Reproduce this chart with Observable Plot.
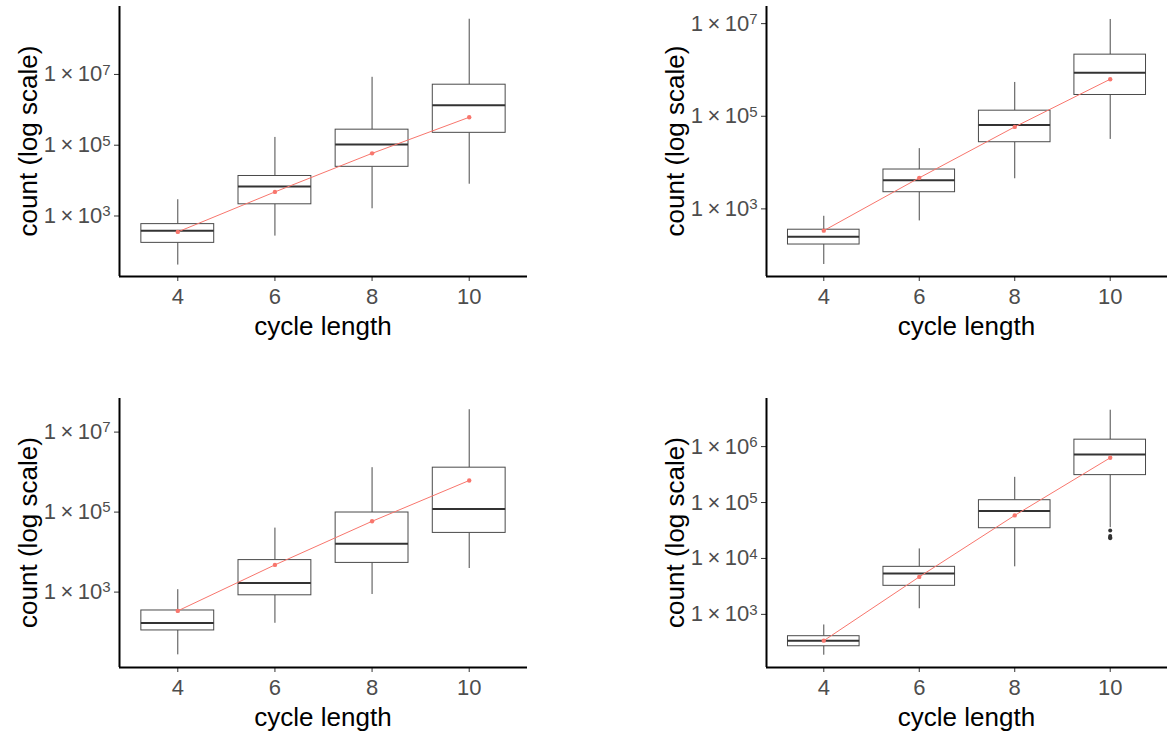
<!DOCTYPE html>
<html>
<head>
<meta charset="utf-8">
<script src="https://cdn.jsdelivr.net/npm/d3@7"></script>
<script src="https://cdn.jsdelivr.net/npm/@observablehq/plot@0.6"></script>
<style>
  html, body { margin: 0; padding: 0; background: #fff; }
  #root { position: relative; width: 1167px; height: 734px; overflow: hidden; font-family: "Liberation Sans", Arial, Helvetica, sans-serif; }
  .panel { position: absolute; }
</style>
</head>
<body>
<div id="root"></div>
<script>
// ---- data ----
const cycles = [4, 6, 8, 10];
const xTickLabels = ["4", "6", "8", "10"];
const xTitle = "cycle length";
const yTitle = "count (log scale)";

// Panel A (top-left)
const aLow  = [41, 270, 1600, 7900];
const aQ1   = [174, 2140, 24500, 224000];
const aMed  = [380, 6760, 105000, 1350000];
const aQ3   = [589, 13500, 275000, 5130000];
const aHigh = [2880, 166000, 8300000, 363000000];
const aMean = [355, 4790, 58900, 617000];
const aOutX = [];
const aOutY = [];
const aTicks = [1e3, 1e5, 1e7];

// Panel B (top-right)
const bLow  = [63, 550, 4470, 31600];
const bQ1   = [170, 2290, 27500, 288000];
const bMed  = [251, 4170, 64600, 871000];
const bQ3   = [355, 7080, 132000, 2140000];
const bHigh = [692, 20000, 537000, 12300000];
const bMean = [339, 4680, 58900, 631000];
const bOutX = [];
const bOutY = [];
const bTicks = [1e3, 1e5, 1e7];

// Panel C (bottom-left)
const cLow  = [27, 166, 871, 3890];
const cQ1   = [110, 832, 5370, 30200];
const cMed  = [170, 1700, 16200, 120000];
const cQ3   = [347, 6310, 97700, 1290000];
const cHigh = [1150, 39800, 1290000, 36300000];
const cMean = [339, 4790, 58900, 617000];
const cOutX = [];
const cOutY = [];
const cTicks = [1e3, 1e5, 1e7];

// Panel D (bottom-right)
const dLow  = [186, 1260, 7080, 35500];
const dQ1   = [269, 3240, 34700, 309000];
const dMed  = [339, 5370, 70800, 724000];
const dQ3   = [407, 7080, 110000, 1330000];
const dHigh = [646, 14800, 282000, 4470000];
const dMean = [339, 4680, 58900, 631000];
const dOutX = [10, 10, 10, 10];
const dOutY = [31600, 25100, 24000, 22900];
const dTicks = [1e3, 1e4, 1e5, 1e6];

// ---- layout / scale settings ----
const xDomain = [2.8, 11.2];
const boxHalf = 0.75;
const supDigits = {"0":"⁰","1":"¹","2":"²","3":"³","4":"⁴","5":"⁵","6":"⁶","7":"⁷","8":"⁸","9":"⁹"};

const panels = [
  {left: 0,   top: 0,   width: 583, height: 367, ml: 119, mr: 56, mt: 6,  mb: 91, yDomain: [Math.pow(10,1.29), Math.pow(10,8.92)], ticks: aTicks,
   s: {low: aLow, q1: aQ1, med: aMed, q3: aQ3, high: aHigh, mean: aMean, ox: aOutX, oy: aOutY}},
  {left: 583, top: 0,   width: 584, height: 367, ml: 183, mr: 0,  mt: 6,  mb: 91, yDomain: [Math.pow(10,1.54), Math.pow(10,7.37)], ticks: bTicks,
   s: {low: bLow, q1: bQ1, med: bMed, q3: bQ3, high: bHigh, mean: bMean, ox: bOutX, oy: bOutY}},
  {left: 0,   top: 367, width: 583, height: 367, ml: 119, mr: 56, mt: 31, mb: 67, yDomain: [Math.pow(10,1.115), Math.pow(10,7.84)], ticks: cTicks,
   s: {low: cLow, q1: cQ1, med: cMed, q3: cQ3, high: cHigh, mean: cMean, ox: cOutX, oy: cOutY}},
  {left: 583, top: 367, width: 584, height: 367, ml: 183, mr: 0,  mt: 31, mb: 67, yDomain: [Math.pow(10,2.05), Math.pow(10,6.86)], ticks: dTicks,
   s: {low: dLow, q1: dQ1, med: dMed, q3: dQ3, high: dHigh, mean: dMean, ox: dOutX, oy: dOutY}}
];

const root = document.getElementById("root");

function yFmt(d) {
  const e = String(Math.round(Math.log10(d)));
  return "1\u2009×\u200910" + e.split("").map(c => supDigits[c]).join("");
}

for (const cfg of panels) {
  const s = cfg.s;
  const rows = cycles.map((c, i) => ({c, lo: s.low[i], q1: s.q1[i], med: s.med[i], q3: s.q3[i], hi: s.high[i], mean: s.mean[i]}));
  const outs = s.ox.map((x, i) => ({c: x, v: s.oy[i]}));
  const boxStroke = "#4a4a4a";

  const svg = Plot.plot({
    width: cfg.width,
    height: cfg.height,
    marginLeft: cfg.ml,
    marginRight: cfg.mr,
    marginTop: cfg.mt,
    marginBottom: cfg.mb,
    style: {fontFamily: '"Liberation Sans", Arial, Helvetica, sans-serif', fontSize: "22px", color: "#333", background: "transparent", overflow: "visible"},
    x: {domain: xDomain, ticks: cycles, tickFormat: (d) => xTickLabels[cycles.indexOf(d)], tickSize: 5, tickPadding: 7, label: null},
    y: {type: "log", domain: cfg.yDomain, ticks: cfg.ticks, tickFormat: yFmt, tickSize: 5, tickPadding: 4, label: null},
    marks: [
      Plot.ruleX(rows, {x: "c", y1: "q3", y2: "hi", stroke: boxStroke, strokeWidth: 1}),
      Plot.ruleX(rows, {x: "c", y1: "lo", y2: "q1", stroke: boxStroke, strokeWidth: 1}),
      Plot.rect(rows, {x1: d => d.c - boxHalf, x2: d => d.c + boxHalf, y1: "q1", y2: "q3", fill: "white", stroke: boxStroke, strokeWidth: 1}),
      Plot.ruleY(rows, {y: "med", x1: d => d.c - boxHalf, x2: d => d.c + boxHalf, stroke: "#333", strokeWidth: 2}),
      Plot.dot(outs, {x: "c", y: "v", r: 2, fill: "#333", stroke: "none"}),
      Plot.line(rows, {x: "c", y: "mean", stroke: "#F8766D", strokeWidth: 1}),
      Plot.dot(rows, {x: "c", y: "mean", r: 2.2, fill: "#F8766D", stroke: "none"}),
      Plot.ruleX([xDomain[0]], {stroke: "black", strokeWidth: 2}),
      Plot.ruleY([cfg.yDomain[0]], {stroke: "black", strokeWidth: 2})
    ]
  });

  const wrap = document.createElement("div");
  wrap.className = "panel";
  wrap.style.left = cfg.left + "px";
  wrap.style.top = cfg.top + "px";
  wrap.appendChild(svg);
  root.appendChild(wrap);

  const sel = d3.select(svg);
  // tick labels: grey, larger, superscript exponents
  sel.selectAll("text").each(function () {
    const t = d3.select(this);
    t.style("fill", "#4d4d4d").style("font-size", "22px");
    const txt = this.textContent;
    const m = txt.match(/^1\u2009×\u200910(.+)$/);
    if (m) {
      const exp = m[1].split("").map(c => Object.keys(supDigits).find(k => supDigits[k] === c)).join("");
      t.text(null);
      t.append("tspan").text("1\u2009×\u200910");
      t.append("tspan").attr("dy", "-0.45em").style("font-size", "15px").text(exp);
    }
  });

  const frameLeft = cfg.ml;
  const frameRight = cfg.width - cfg.mr;
  const frameTop = cfg.mt;
  const frameBottom = cfg.height - cfg.mb;

  sel.append("text")
    .attr("x", (frameLeft + frameRight) / 2)
    .attr("y", frameBottom + 59)
    .attr("text-anchor", "middle")
    .style("font-size", "26px")
    .style("fill", "#000")
    .text(xTitle);

  sel.append("text")
    .attr("transform", `translate(${frameLeft - 82},${(frameTop + frameBottom) / 2}) rotate(-90)`)
    .attr("text-anchor", "middle")
    .style("font-size", "26px")
    .style("fill", "#000")
    .text(yTitle);
}
</script>
</body>
</html>
